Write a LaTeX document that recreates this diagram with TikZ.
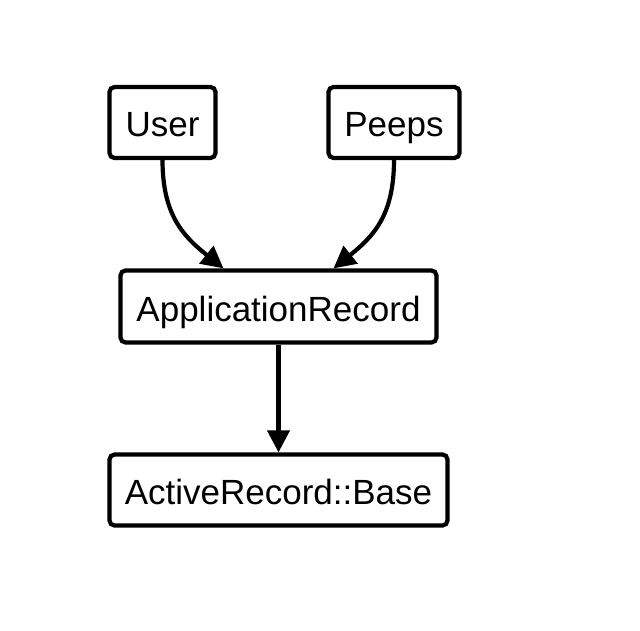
\documentclass[tikz,border=0pt]{standalone}
\usepackage{fontspec}
\setmainfont{Liberation Sans}
\usetikzlibrary{arrows.meta}
\begin{document}
\begin{tikzpicture}[x=1pt,y=-1pt,
  cls/.style={draw=black, line width=4.2pt, rounded corners=5pt, fill=white,
    inner sep=0pt, minimum height=71pt, text height=29pt, text depth=0pt,
    font=\fontsize{35}{40}\selectfont},
  link/.style={line width=4.2pt, -{Triangle[length=22pt,width=22pt]}}]
\useasboundingbox (0,0) rectangle (640,631);
\node[cls, minimum width=106pt] (user) at (162.5,122.5) {User};
\node[cls, minimum width=131pt] (peeps) at (394,122.5) {Peeps};
\node[cls, minimum width=316pt, minimum height=72pt] (app) at (278.5,306.5) {ApplicationRecord};
\node[cls, minimum width=338pt] (base) at (278.5,490) {ActiveRecord::Base};
\draw[link] (user.south) .. controls +(0,55) and +(-40,-32) .. ([xshift=-55pt]app.north);
\draw[link] (peeps.south) .. controls +(0,55) and +(40,-32) .. ([xshift=55pt]app.north);
\draw[link] (app.south) -- (base.north);
\end{tikzpicture}
\end{document}
